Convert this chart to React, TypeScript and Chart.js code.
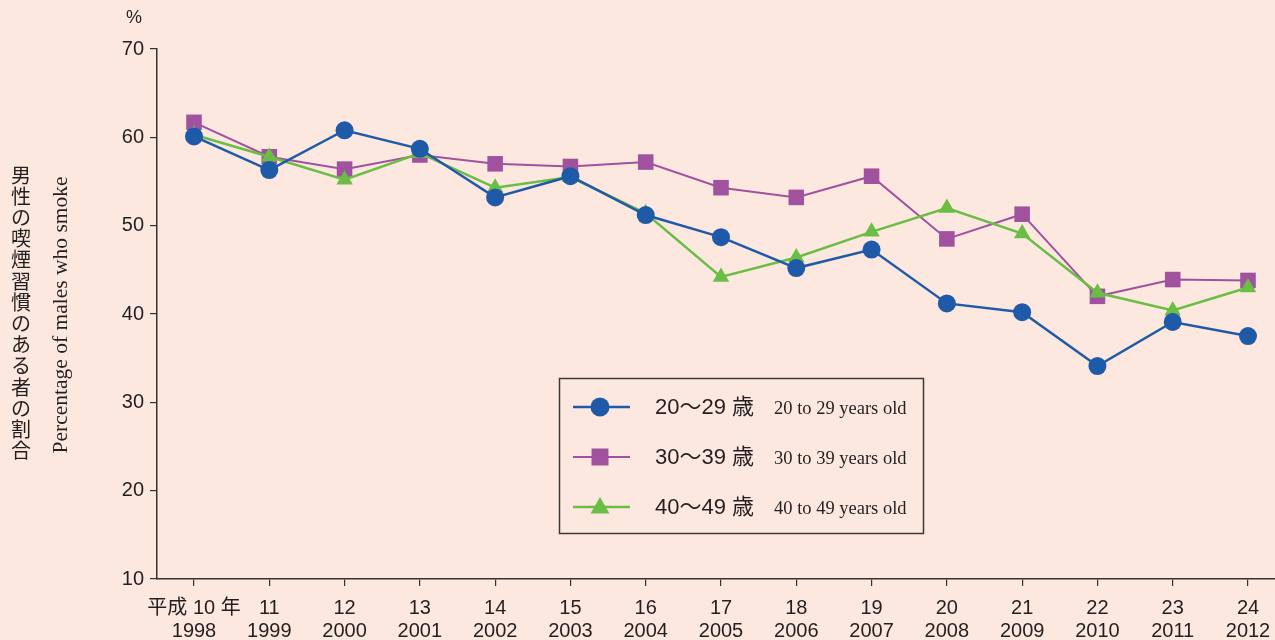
import React, { useEffect, useRef } from "react";
import { Chart, registerables } from "chart.js";

Chart.register(...registerables);

const HEISEI = ["平成 10 年", "11", "12", "13", "14", "15", "16", "17", "18", "19", "20", "21", "22", "23", "24"];
const YEARS = ["1998", "1999", "2000", "2001", "2002", "2003", "2004", "2005", "2006", "2007", "2008", "2009", "2010", "2011", "2012"];
const AGE_20S = [60.1, 56.3, 60.8, 58.7, 53.2, 55.6, 51.2, 48.7, 45.2, 47.3, 41.2, 40.2, 34.1, 39.1, 37.5];
const AGE_30S = [61.7, 57.8, 56.4, 58.0, 57.0, 56.7, 57.2, 54.3, 53.2, 55.6, 48.5, 51.3, 42.0, 43.9, 43.8];
const AGE_40S = [60.3, 57.8, 55.2, 58.2, 54.3, 55.5, 51.4, 44.2, 46.4, 49.3, 52.0, 49.1, 42.4, 40.4, 43.0];
const LEGEND_JA = ["20〜29 歳", "30〜39 歳", "40〜49 歳"];
const LEGEND_EN = ["20 to 29 years old", "30 to 39 years old", "40 to 49 years old"];
const Y_TITLE_JA = "男性の喫煙習慣のある者の割合";
const Y_TITLE_EN = "Percentage of males who smoke";
const Y_UNIT = "%";
const Y_MIN = 10;
const Y_MAX = 70;
const Y_STEP = 10;

const BG = "#fde8df";
const TEXT = "#231f20";
const BLUE = "#1f5aa8";
const PURPLE = "#a0529f";
const GREEN = "#6abd45";

const SANS = '"Liberation Sans", "Noto Sans CJK JP", Arial, sans-serif';
const SERIF = '"Liberation Serif", "Times New Roman", serif';
const CJK = '"Noto Sans CJK JP", sans-serif';

const SERIES = [
  { values: AGE_20S, color: BLUE, style: "circle", radius: 9, width: 2.5 },
  { values: AGE_30S, color: PURPLE, style: "rect", radius: 11, width: 2 },
  { values: AGE_40S, color: GREEN, style: "triangle", radius: 9.5, width: 2.5 },
];

function drawMarker(ctx: CanvasRenderingContext2D, style: string, x: number, y: number, r: number) {
  ctx.beginPath();
  if (style === "circle") {
    ctx.arc(x, y, r, 0, Math.PI * 2);
  } else if (style === "rect") {
    ctx.rect(x - r, y - r, 2 * r, 2 * r);
  } else {
    ctx.moveTo(x, y - r);
    ctx.lineTo(x + r * 0.95, y + r * 0.65);
    ctx.lineTo(x - r * 0.95, y + r * 0.65);
    ctx.closePath();
  }
  ctx.fill();
}

const decorPlugin = {
  id: "decor",
  beforeDraw(chart: any) {
    const { ctx, width, height } = chart;
    ctx.save();
    ctx.fillStyle = BG;
    ctx.fillRect(0, 0, width, height);
    ctx.restore();
  },
  afterDraw(chart: any) {
    const { ctx } = chart;
    ctx.save();
    ctx.fillStyle = TEXT;
    ctx.font = `18px ${SANS}`;
    ctx.textAlign = "center";
    ctx.textBaseline = "middle";
    ctx.fillText(Y_UNIT, 134, 18);
    // Japanese vertical title
    ctx.font = `20px ${CJK}`;
    const chars = Array.from(Y_TITLE_JA);
    const pitch = 21.2;
    const startY = 175;
    chars.forEach((c, i) => {
      ctx.fillText(c, 21, startY + i * pitch);
    });
    // English rotated title
    ctx.save();
    ctx.translate(61, 315);
    ctx.rotate(-Math.PI / 2);
    ctx.font = `21.5px ${SERIF}`;
    ctx.fillText(Y_TITLE_EN, 0, 0);
    ctx.restore();

    // legend box
    const bx = 559.5, by = 378.5, bw = 364, bh = 155;
    ctx.fillStyle = BG;
    ctx.fillRect(bx, by, bw, bh);
    ctx.strokeStyle = "#3a3a3a";
    ctx.lineWidth = 1.5;
    ctx.strokeRect(bx, by, bw, bh);
    SERIES.forEach((s, i) => {
      const y = 407 + i * 50;
      ctx.strokeStyle = s.color;
      ctx.lineWidth = s.width;
      ctx.beginPath();
      ctx.moveTo(573, y);
      ctx.lineTo(630, y);
      ctx.stroke();
      ctx.fillStyle = s.color;
      drawMarker(ctx, s.style, 600, y, s.style === "circle" ? 9.5 : s.style === "rect" ? 8.5 : 10);
      ctx.fillStyle = TEXT;
      ctx.textAlign = "left";
      ctx.textBaseline = "middle";
      ctx.font = `22px ${SANS}`;
      ctx.fillText(LEGEND_JA[i], 655, y + 1);
      ctx.font = `18.5px ${SERIF}`;
      ctx.fillText(LEGEND_EN[i], 774, y + 2);
    });
    ctx.restore();
  },
};

export default function App() {
  const ref = useRef<HTMLCanvasElement>(null);
  useEffect(() => {
    document.body.style.margin = "0";
    document.body.style.background = BG;
    const pxPerUnit = (1248 - 194) / (YEARS.length - 1);
    const xMin = -(194 - 157) / pxPerUnit;
    const xMax = YEARS.length - 1 + (1275 - 1248) / pxPerUnit;
    const chart = new Chart(ref.current as HTMLCanvasElement, {
      type: "line",
      data: {
        datasets: SERIES.map((s, i) => ({
          label: LEGEND_JA[i],
          data: s.values.map((v, j) => ({ x: j, y: v })),
          borderColor: s.color,
          backgroundColor: s.color,
          borderWidth: s.width,
          pointStyle: s.style as any,
          pointRadius: s.radius,
          pointBorderWidth: 0,
          pointBackgroundColor: s.color,
          tension: 0,
          clip: false,
          order: i === 0 ? 0 : i === 1 ? 2 : 1,
        })),
      },
      options: {
        animation: false,
        responsive: false,
        maintainAspectRatio: false,
        layout: { autoPadding: false, padding: { top: 49, right: 0, left: 0, bottom: 0 } },
        plugins: { legend: { display: false }, tooltip: { enabled: false } },
        scales: {
          x: {
            type: "linear",
            min: xMin,
            max: xMax,
            afterBuildTicks: (scale: any) => {
              scale.ticks = YEARS.map((_, i) => ({ value: i }));
            },
            afterFit: (scale: any) => {
              scale.height = 61;
              scale.paddingLeft = 0;
              scale.paddingRight = 0;
            },
            grid: { drawOnChartArea: false, tickLength: 7, color: "#333", lineWidth: 1.2 },
            border: { color: "#333", width: 1.5 },
            ticks: {
              autoSkip: false,
              maxRotation: 0,
              color: TEXT,
              padding: 11,
              font: { family: SANS, size: 20, lineHeight: 1.15 },
              callback: (v: any) => [HEISEI[v], YEARS[v]],
            },
          },
          y: {
            min: Y_MIN,
            max: Y_MAX,
            afterFit: (scale: any) => {
              scale.width = 157;
            },
            grid: { drawOnChartArea: false, tickLength: 7, color: "#333", lineWidth: 1.2 },
            border: { color: "#333", width: 1.5 },
            ticks: {
              stepSize: Y_STEP,
              color: TEXT,
              padding: 6,
              font: { family: SANS, size: 20 },
            },
          },
        },
      },
      plugins: [decorPlugin],
    } as any);
    return () => chart.destroy();
  }, []);
  return (
    <div style={{ position: "fixed", left: 0, top: 0, width: 1275, height: 640, background: BG }}>
      <canvas ref={ref} width={1275} height={640} style={{ width: 1275, height: 640 }} />
    </div>
  );
}
